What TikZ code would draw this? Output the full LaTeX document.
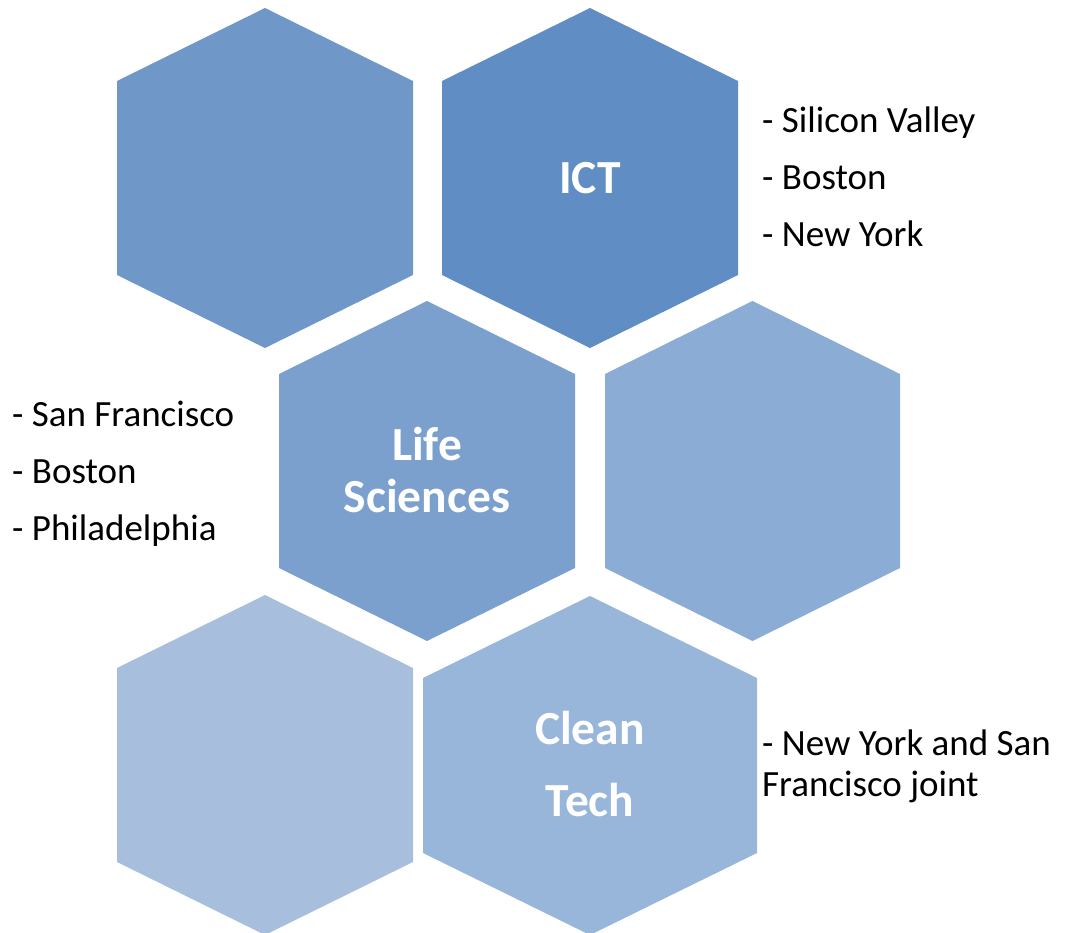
\documentclass[tikz,border=0pt]{standalone}
\usepackage{fontspec}
\setmainfont{Carlito}
\definecolor{cellA}{HTML}{5F8DC4}
\definecolor{cellB}{HTML}{6F97C8}
\definecolor{cellC}{HTML}{7BA0CE}
\definecolor{cellD}{HTML}{8BACD4}
\definecolor{cellE}{HTML}{98B5DA}
\definecolor{cellF}{HTML}{A7BFDD}
\newcommand\honeycell[6]{\fill[#1,shift={(#2,#3)}] (0,-#6) -- (#4,-#5) -- (#4,#5) -- (0,#6) -- (-#4,#5) -- (-#4,-#5) -- cycle;}
\tikzset{
  celltitle/.style={text=white, font=\bfseries\fontsize{47.5}{52}\selectfont, align=center, inner sep=0pt},
  citylist/.style={text=black, font=\fontsize{37}{57}\selectfont, align=left, inner sep=0pt},
}
\begin{document}
\begin{tikzpicture}[x=1pt,y=-1pt]
\useasboundingbox (0,0) rectangle (1068,933);
\clip (0,0) rectangle (1068,933);
\honeycell{cellB}{265}{178}{148}{97}{170}
\honeycell{cellA}{590}{178}{148}{97}{170}
\honeycell{cellC}{427}{471}{148}{97}{170}
\honeycell{cellD}{752.5}{471}{147.5}{97}{170}
\honeycell{cellF}{265}{765}{148}{97}{170}
\honeycell{cellE}{590}{765.5}{167}{87.5}{169.5}
\node[celltitle] (ict) at (590,178) {ICT};
\node[celltitle] (life) at (427,470) {Life\\Sciences};
\node[celltitle, font=\bfseries\fontsize{47.5}{72}\selectfont] (clean) at (590,764) {Clean\\Tech};
\node[citylist, anchor=west] (ictlist) at (762,177) {- Silicon Valley\\- Boston\\- New York};
\node[citylist, anchor=west] (lifelist) at (12,474) {- San Francisco\\- Boston\\- Philadelphia};
\node[citylist, anchor=west, font=\fontsize{37}{41}\selectfont] (cleanlist) at (762,766) {- New York and San\\Francisco joint};
\end{tikzpicture}
\end{document}
